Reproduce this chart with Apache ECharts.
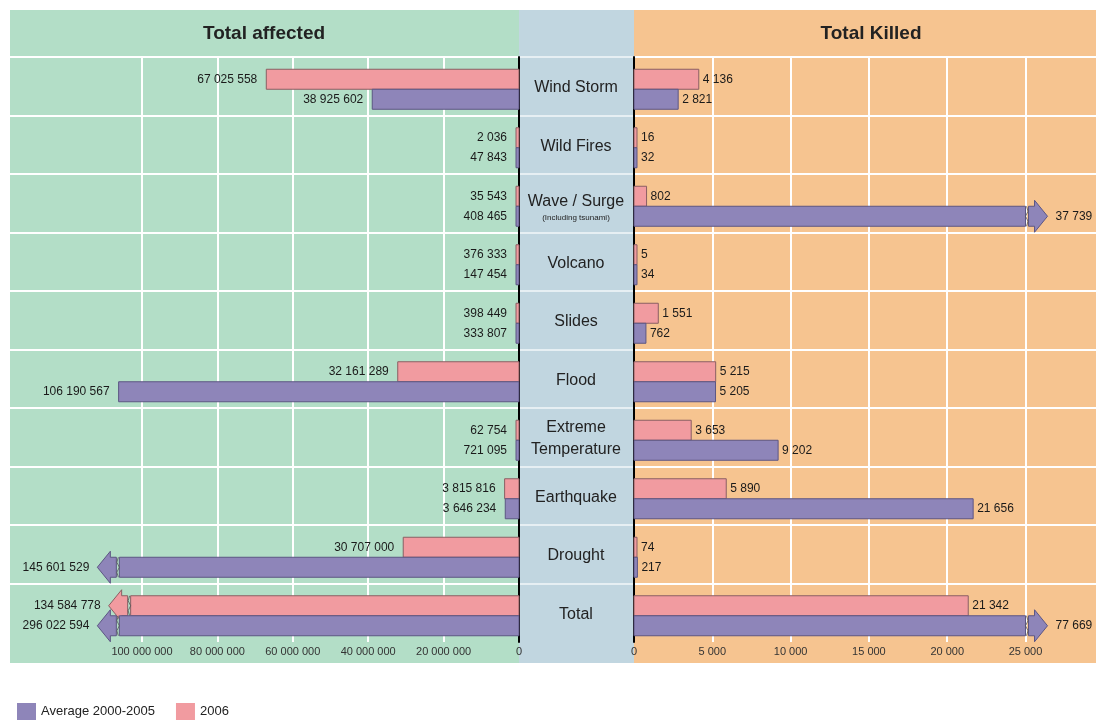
<!DOCTYPE html>
<html>
<head>
<meta charset="utf-8">
<title>Natural disasters 2006 vs average 2000-2005</title>
<script src="https://cdn.jsdelivr.net/npm/echarts@6/dist/echarts.min.js"></script>
<style>
  html, body { margin: 0; padding: 0; background: #fff; overflow: hidden; }
  #chart { width: 1096px; height: 720px; }
</style>
</head>
<body>
<div id="chart"></div>
<script>
var categories = ['Wind Storm', 'Wild Fires', 'Wave / Surge', 'Volcano', 'Slides', 'Flood',
    'Extreme Temperature', 'Earthquake', 'Drought', 'Total'];

var affected2006 = [67025558, 2036, 35543, 376333, 398449, 32161289, 62754, 3815816, 30707000, 134584778];
var affectedAvg = [38925602, 47843, 408465, 147454, 333807, 106190567, 721095, 3646234, 145601529, 296022594];
var killed2006 = [4136, 16, 802, 5, 1551, 5215, 3653, 5890, 74, 21342];
var killedAvg = [2821, 32, 37739, 34, 762, 5205, 9202, 21656, 217, 77669];

var affectedTicks = [0, 20000000, 40000000, 60000000, 80000000, 100000000];
var killedTicks = [0, 5000, 10000, 15000, 20000, 25000];

// values above the limit are drawn broken: body cut short, then an arrow
var affectedLimit = 110000000;
var affectedCut2006 = 103000000, affectedCutAvg = 106000000;
var killedLimit = 25000, killedCut = 25000;

var FONT = '"Liberation Sans", Arial, sans-serif';
var GREEN = '#b3dec7', MIDDLE = '#c1d6e0', ORANGE = '#f6c490';
var PINK = '#f19ba0', PINK_LINE = '#8a5f63';
var PURPLE = '#8e85b9', PURPLE_LINE = '#5c5683';

function fmt(v) {
    return String(v).replace(/\B(?=(\d{3})+(?!\d))/g, ' ');
}

function toPoints(list) {
    return list.map(function (v, i) { return [v, i]; });
}

function barRenderer(offset, limit, cut, fill, stroke) {
    return function (params, api) {
        var value = api.value(0);
        var idx = api.value(1);
        var origin = api.coord([0, idx]);
        var dir = api.coord([limit, idx])[0] > origin[0] ? 1 : -1;
        var broken = value > limit;
        var end = api.coord([broken ? cut : value, idx])[0];
        var len = Math.max(Math.abs(end - origin[0]), 3);
        end = origin[0] + dir * len;
        var h = 20;
        var top = origin[1] + offset;
        var mid = top + h / 2;
        var children = [{
            type: 'rect',
            shape: { x: Math.min(origin[0], end), y: top, width: len, height: h },
            style: { fill: fill, stroke: stroke, lineWidth: 1 }
        }];
        var tip = end;
        if (broken) {
            var a = end + dir * 3, b = a + dir * 6;
            tip = b + dir * 13;
            children.push({
                type: 'polygon',
                shape: { points: [[a, top], [b, top], [b, top - 6], [tip, mid], [b, top + h + 6], [b, top + h], [a, top + h]] },
                style: { fill: fill, stroke: stroke, lineWidth: 1 }
            });
            children.push({
                type: 'polyline',
                shape: { points: [[end + dir, top], [end + dir * 2.5, top + 5], [end, top + 10], [end + dir * 2.5, top + 15], [end + dir, top + h]] },
                style: { stroke: '#555', lineWidth: 0.8, fill: null }
            });
        }
        var gap = broken ? 8 : (dir > 0 ? 4 : 9);
        children.push({
            type: 'text',
            style: {
                text: fmt(value),
                x: tip + dir * gap,
                y: mid,
                textAlign: dir > 0 ? 'left' : 'right',
                textVerticalAlign: 'middle',
                font: '12px ' + FONT,
                fill: '#1a1a1a'
            }
        });
        return { type: 'group', children: children };
    };
}

function categoryLabel(value) {
    if (value === 'Wave / Surge') return '{g| }\n{a|Wave / Surge}\n{s|(Including tsunami)}';
    if (value === 'Extreme Temperature') return 'Extreme\nTemperature';
    return value;
}

var chart = echarts.init(document.getElementById('chart'));

var option = {
    animation: false,
    graphic: [
        { type: 'rect', z: -10, shape: { x: 10, y: 10, width: 509, height: 653 }, style: { fill: GREEN } },
        { type: 'rect', z: -10, shape: { x: 519, y: 10, width: 115, height: 653 }, style: { fill: MIDDLE } },
        { type: 'rect', z: -10, shape: { x: 634, y: 10, width: 462, height: 653 }, style: { fill: ORANGE } },
        {
            type: 'text', x: 264, y: 34,
            style: { text: 'Total affected', textAlign: 'center', textVerticalAlign: 'middle', font: 'bold 19px ' + FONT, fill: '#222' }
        },
        {
            type: 'text', x: 871, y: 34,
            style: { text: 'Total Killed', textAlign: 'center', textVerticalAlign: 'middle', font: 'bold 19px ' + FONT, fill: '#222' }
        }
    ],
    legend: {
        data: ['Average 2000-2005', '2006'],
        left: 17,
        top: 703,
        padding: 0,
        icon: 'rect',
        itemWidth: 19,
        itemHeight: 17,
        itemGap: 21,
        selectedMode: false,
        textStyle: { fontSize: 13, fontFamily: FONT, color: '#222' }
    },
    grid: [
        { left: 10, right: 577, top: 57, bottom: 78 },
        { left: 519, right: 462, top: 57, bottom: 78 },
        { left: 634, right: 0, top: 57, bottom: 78 }
    ],
    xAxis: [
        {
            gridIndex: 0,
            type: 'value',
            inverse: true,
            min: 0,
            max: 135000000,
            axisLine: { show: false },
            axisTick: { show: false, customValues: affectedTicks },
            axisLabel: { customValues: affectedTicks, formatter: fmt, color: '#333', fontSize: 11, fontFamily: FONT, margin: 4 },
            splitLine: { show: true, lineStyle: { color: '#fff', width: 2 } }
        },
        { gridIndex: 1, type: 'value', show: false },
        {
            gridIndex: 2,
            type: 'value',
            min: 0,
            max: 29500,
            axisLine: { show: false },
            axisTick: { show: false, customValues: killedTicks },
            axisLabel: { customValues: killedTicks, formatter: fmt, color: '#333', fontSize: 11, fontFamily: FONT, margin: 4 },
            splitLine: { show: true, lineStyle: { color: '#fff', width: 2 } }
        }
    ],
    yAxis: [
        {
            gridIndex: 0,
            type: 'category',
            data: categories,
            inverse: true,
            position: 'right',
            axisLine: { lineStyle: { color: '#000', width: 2 } },
            axisTick: { show: false },
            axisLabel: { show: false },
            splitLine: { show: true, showMaxLine: false, lineStyle: { color: '#fff', width: 2 } }
        },
        {
            gridIndex: 1,
            type: 'category',
            data: categories,
            inverse: true,
            axisLine: { show: false },
            axisTick: { show: false },
            axisLabel: { show: false },
            splitLine: { show: true, showMaxLine: false, lineStyle: { color: 'rgba(255,255,255,0.6)', width: 2 } }
        },
        {
            gridIndex: 2,
            type: 'category',
            data: categories,
            inverse: true,
            position: 'left',
            axisLine: { lineStyle: { color: '#000', width: 2 } },
            axisTick: { show: false },
            axisLabel: {
                align: 'center',
                margin: 58,
                padding: [3, 0, 0, 0],
                fontSize: 16,
                lineHeight: 22,
                fontFamily: FONT,
                color: '#222',
                formatter: categoryLabel,
                rich: {
                    g: { fontSize: 4, lineHeight: 6 },
                    a: { fontSize: 16, lineHeight: 20, fontFamily: FONT, color: '#222' },
                    s: { fontSize: 8, lineHeight: 12, fontFamily: FONT, color: '#222' }
                }
            },
            splitLine: { show: true, showMaxLine: false, lineStyle: { color: '#fff', width: 2 } }
        }
    ],
    series: [
        {
            name: '2006', type: 'custom', xAxisIndex: 0, yAxisIndex: 0,
            renderItem: barRenderer(-17, affectedLimit, affectedCut2006, PINK, PINK_LINE),
            encode: { x: 0, y: 1 },
            itemStyle: { color: PINK, borderColor: PINK_LINE },
            data: toPoints(affected2006)
        },
        {
            name: 'Average 2000-2005', type: 'custom', xAxisIndex: 0, yAxisIndex: 0,
            renderItem: barRenderer(3, affectedLimit, affectedCutAvg, PURPLE, PURPLE_LINE),
            encode: { x: 0, y: 1 },
            itemStyle: { color: PURPLE, borderColor: PURPLE_LINE },
            data: toPoints(affectedAvg)
        },
        {
            name: '2006', type: 'custom', xAxisIndex: 2, yAxisIndex: 2,
            renderItem: barRenderer(-17, killedLimit, killedCut, PINK, PINK_LINE),
            encode: { x: 0, y: 1 },
            itemStyle: { color: PINK, borderColor: PINK_LINE },
            data: toPoints(killed2006)
        },
        {
            name: 'Average 2000-2005', type: 'custom', xAxisIndex: 2, yAxisIndex: 2,
            renderItem: barRenderer(3, killedLimit, killedCut, PURPLE, PURPLE_LINE),
            encode: { x: 0, y: 1 },
            itemStyle: { color: PURPLE, borderColor: PURPLE_LINE },
            data: toPoints(killedAvg)
        }
    ]
};

chart.setOption(option);
</script>
</body>
</html>
